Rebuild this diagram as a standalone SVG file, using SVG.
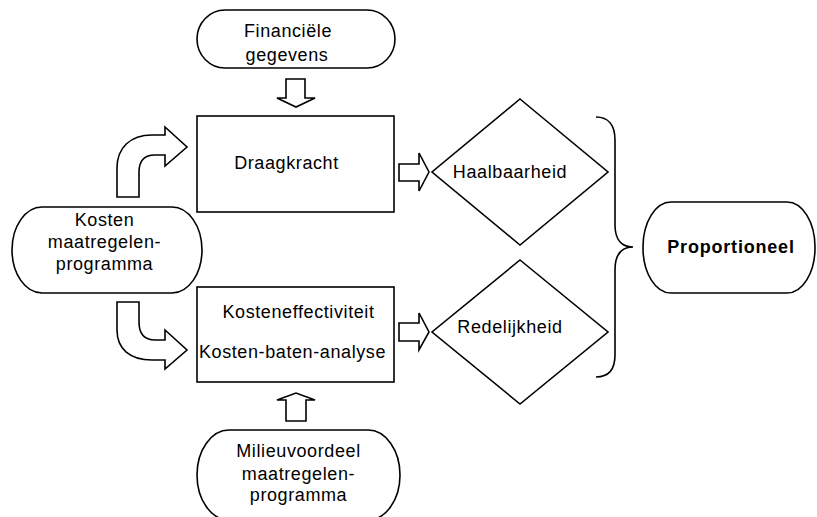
<svg xmlns="http://www.w3.org/2000/svg" width="817" height="517" viewBox="0 0 817 517">
<style>
.s{fill:#fff;stroke:#000;stroke-width:1.6;stroke-linejoin:miter}
.b{fill:none;stroke:#000;stroke-width:1.6}
.t{font-family:"Liberation Sans",Arial,sans-serif;font-size:18px;letter-spacing:0.6px;fill:#000;text-anchor:middle}
.bold{font-weight:bold;letter-spacing:0.8px}
</style>
<rect width="817" height="517" fill="#fff"/>
<g id="connectors">
  <path class="s" d="M286,79 L305,79 L305,98 L315,98 L296,107 L277,98 L286,98 Z"/>
  <path class="s" d="M286,421 L306,421 L306,400 L315,400 L296,393 L277,400 L286,400 Z"/>
  <path class="s" d="M117,197 L117,168 C117,148 130,135 152,135 L165,135 L165,127 L187,147 L165,166 L165,155 L155,155 C145,155 139,160 139,172 L139,197 Z"/>
  <path class="s" d="M117,302 L117,330 C117,349 130,360 152,360 L165,360 L165,369 L187,350 L165,330 L165,340 L155,340 C145,340 139,335 139,322 L139,302 Z"/>
  <path class="s" d="M399,164 L419,164 L419,153 L429,172 L419,191 L419,181 L399,181 Z"/>
  <path class="s" d="M399,323 L419,323 L419,313 L429,332 L419,350 L419,341 L399,341 Z"/>
  <path class="b" d="M596,117 C608,117 615,125 615,140 L615,225 C615,240 622,247 633,247 C622,247 615,254 615,270 L615,355 C615,370 608,377 596,377"/>
</g>
<g id="financiele-gegevens">
  <rect class="s" x="197" y="10" width="198" height="58" rx="28" ry="29"/>
  <text class="t" x="288" y="37">Financiële</text>
  <text class="t" x="287" y="61">gegevens</text>
</g>
<g id="draagkracht">
  <rect class="s" x="197" y="116" width="197" height="96"/>
  <text class="t" x="286.5" y="169">Draagkracht</text>
</g>
<g id="kosteneffectiviteit">
  <rect class="s" x="197" y="287" width="197" height="95"/>
  <text class="t" x="298.5" y="318">Kosteneffectiviteit</text>
  <text class="t" x="292.5" y="358">Kosten-baten-analyse</text>
</g>
<g id="kosten-maatregelenprogramma">
  <rect class="s" x="12" y="207" width="190" height="86" rx="30" ry="43"/>
  <text class="t" x="104.5" y="226">Kosten</text>
  <text class="t" x="104.5" y="248">maatregelen-</text>
  <text class="t" x="104.5" y="270">programma</text>
</g>
<g id="milieuvoordeel">
  <rect class="s" x="197" y="430" width="203" height="90" rx="32" ry="45"/>
  <text class="t" x="298.5" y="457">Milieuvoordeel</text>
  <text class="t" x="298.5" y="480">maatregelen-</text>
  <text class="t" x="298.5" y="501">programma</text>
</g>
<g id="haalbaarheid">
  <polygon class="s" points="520,99 608,172 520,245 432,172"/>
  <text class="t" x="510" y="178">Haalbaarheid</text>
</g>
<g id="redelijkheid">
  <polygon class="s" points="520,260 608,332 520,404 432,332"/>
  <text class="t" x="510" y="333">Redelijkheid</text>
</g>
<g id="proportioneel">
  <rect class="s" x="643" y="202" width="172" height="91" rx="28" ry="45"/>
  <text class="t bold" x="731" y="253">Proportioneel</text>
</g>
</svg>
